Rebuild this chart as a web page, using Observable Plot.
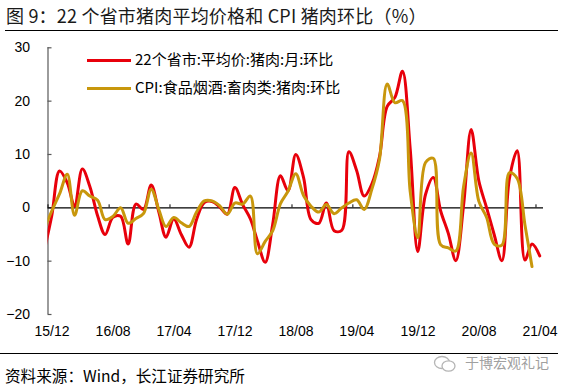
<!DOCTYPE html>
<html>
<head>
<meta charset="utf-8">
<script src="https://cdn.jsdelivr.net/npm/d3@7"></script>
<script src="https://cdn.jsdelivr.net/npm/@observablehq/plot@0.6"></script>
<style>
  html, body { margin: 0; padding: 0; background: #fff; }
  #wrap { position: relative; width: 565px; height: 389px; overflow: hidden; font-family: "Noto Sans CJK SC", sans-serif; }
  #title { position: absolute; left: 6px; top: 2.5px; font-size: 18px; letter-spacing: 0.2px; line-height: 24px; color: #1a1a1a; white-space: nowrap; }
  .hr { position: absolute; height: 1px; background: #000; }
  #chart { position: absolute; left: 0; top: 0; }
  .sw { position: absolute; left: 87px; width: 44px; height: 3px; }
  .lt { position: absolute; left: 135px; font-size: 15px; line-height: 18px; color: #000; white-space: nowrap; }
  #source { position: absolute; left: 5px; top: 365px; font-size: 15.6px; line-height: 20px; color: #000; white-space: nowrap; }
  #wm { position: absolute; left: 465px; top: 353px; font-size: 14px; line-height: 18px; color: #a0a0a0; white-space: nowrap; }
  #wmicon { position: absolute; left: 433px; top: 355px; }
</style>
</head>
<body>
<div id="wrap">
  <div id="title">图 9：22 个省市猪肉平均价格和 CPI 猪肉环比（%）</div>
  <div class="hr" style="left:5px; width:553px; top:30px;"></div>
  <div id="chart"></div>
  <div class="sw" id="sw0" style="top:58.5px;"></div>
  <div class="lt" id="lt0" style="top:50px;"></div>
  <div class="sw" id="sw1" style="top:86.8px;"></div>
  <div class="lt" id="lt1" style="top:78.3px;"></div>
  <div class="hr" style="left:0px; width:558px; top:353px;"></div>
  <div id="source">资料来源：Wind，长江证券研究所</div>
  <svg id="wmicon" width="24" height="18" viewBox="0 0 24 18">
    <ellipse cx="9" cy="7.5" rx="7.5" ry="6" fill="none" stroke="#b5b5b5" stroke-width="1.3"/>
    <ellipse cx="15.5" cy="11" rx="6.5" ry="5.2" fill="#fff" stroke="#b5b5b5" stroke-width="1.3"/>
  </svg>
  <div id="wm">于博宏观礼记</div>
</div>
<script>
// ---- data ----
const firstMonth = [2015, 10]; // Nov 2015 (clipped at the axis start)
const seriesNames = ["22个省市:平均价:猪肉:月:环比", "CPI:食品烟酒:畜肉类:猪肉:环比"];
const seriesColors = ["#E8000B", "#C8970C"];

// 22 provinces average pork price, MoM % (Nov 2015 – Apr 2021)
const redValues = [
  -8.0, -1.5,
  6.9, 4.7, 0.3, 7.3, 4.0, -1.5, -5.0, -1.8, -1.6, -6.8, 0.7, -0.3,
  4.3, -0.9, -5.5, -2.1, -5.0, -7.4, -2.2, 1.0, 1.2, 0.2, -1.2, 3.8,
  0.6, -2.1, -6.2, -10.2, -3.1, 6.0, 3.2, 10.0, 5.7, -2.2, -2.9, 0.9,
  -4.3, -4.2, 10.5, 7.0, 2.2, 4.5, 9.5, 19.0, 20.7, 25.6, 11.0, -8.2,
  2.5, 5.7, -0.5, -4.8, -9.9, 0.5, 14.7, 5.0, 0.0, -5.0, -9.9, 5.5,
  10.7, -9.8, -6.8, -9.0
];
// CPI pork MoM % (Nov 2015 – Mar 2021)
const goldValues = [
  -4.0, -0.6,
  2.6, 6.3, -1.4, 3.2, 2.2, 1.4, -2.2, -1.6, 0.0, -2.9, -2.0, -1.1,
  3.5, -0.4, -3.5, -1.8, -2.8, -3.5, -0.8, 1.3, 1.3, 0.4, -1.2, 0.9,
  0.7, 2.2, -8.6, -6.3, -4.3, 0.8, 3.1, 6.4, 2.3, 0.3, -0.8, 0.6,
  -1.1, 0.0, 0.9, 1.5, -0.3, 3.5, 9.0, 23.2, 19.7, 20.1, 3.0, -5.6,
  8.5, 9.3, -6.9, -7.5, -8.1, 4.0, 10.3, 1.2, -1.8, -6.8, -7.0, 6.6,
  5.5, -3.2, -11.0
];
const xTickLabels = ["15/12", "16/08", "17/04", "17/12", "18/08", "19/04", "19/12", "20/08", "21/04"];
const yTicks = [-20, -10, 0, 10, 20, 30];
const xStart = "2015-12";
const xEnd = "2021-05";

// ---- build ----
const toDate = (y, m, d) => new Date(Date.UTC(y, m, d));
const monthDate = (i) => toDate(firstMonth[0], firstMonth[1] + i, 16); // mid-month
const redData = redValues.map((v, i) => ({date: monthDate(i), value: v}));
const goldData = goldValues.map((v, i) => ({date: monthDate(i), value: v}));
const tickDates = xTickLabels.map(s => { const [yy, mm] = s.split("/").map(Number); return toDate(2000 + yy, mm - 1, 1); });
const parseYM = s => { const [y, m] = s.split("-").map(Number); return toDate(y, m - 1, 1); };
const xDomain = [parseYM(xStart), parseYM(xEnd)];
const axisColor = "#595959";

const chart = Plot.plot({
  width: 565,
  height: 389,
  marginLeft: 47.5,
  marginRight: 22,
  marginTop: 47.3,
  marginBottom: 75,
  x: {type: "utc", domain: xDomain},
  y: {domain: [-20, 30]},
  style: {fontFamily: "'Liberation Sans', Arial, sans-serif", fontSize: "14px", color: "#000", background: "transparent", overflow: "visible"},
  marks: [
    Plot.ruleX([xDomain[0]], {stroke: axisColor, strokeWidth: 1.2}),
    Plot.ruleY(yTicks, {x1: () => xDomain[0], x2: () => xDomain[0], insetRight: -4, stroke: axisColor, strokeWidth: 1.2}),
    Plot.ruleY([0], {stroke: "#000", strokeWidth: 1.2}),
    Plot.ruleX(tickDates, {y1: 0, y2: 0, insetTop: -3, stroke: "#000", strokeWidth: 1}),
    Plot.axisY({ticks: yTicks, tickSize: 0, tickPadding: 18, label: null}),
    Plot.axisX({ticks: tickDates, tickSize: 0, tickPadding: 12, dx: 4, label: null,
      tickFormat: d => xTickLabels[tickDates.findIndex(t => +t === +d)]}),
    Plot.line(redData, {x: "date", y: "value", stroke: seriesColors[0], strokeWidth: 3, curve: "catmull-rom", clip: true}),
    Plot.line(goldData, {x: "date", y: "value", stroke: seriesColors[1], strokeWidth: 3, curve: "catmull-rom", clip: true})
  ]
});
document.getElementById("chart").appendChild(chart);

[0, 1].forEach(i => {
  document.getElementById("sw" + i).style.background = seriesColors[i];
  document.getElementById("lt" + i).textContent = seriesNames[i];
});
</script>
</body>
</html>
